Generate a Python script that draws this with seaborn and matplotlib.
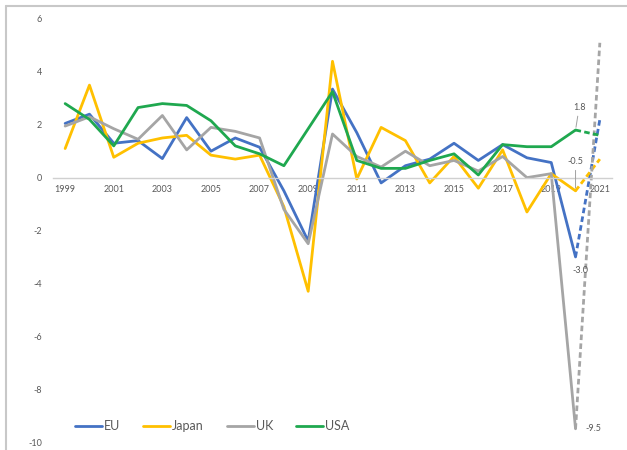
import matplotlib
matplotlib.use("Agg")
import matplotlib.pyplot as plt
from matplotlib.lines import Line2D
import numpy as np
import pandas as pd
import seaborn as sns

# GDP growth, % year on year (2021 is a forecast)
years = list(range(1999, 2022))
eu = [2.05, 2.4, 1.3, 1.4, 0.72, 2.27, 1.0, 1.5, 1.15, -0.5, -2.4, 3.35,
      1.7, -0.2, 0.45, 0.7, 1.3, 0.65, 1.25, 0.75, 0.57, -3.0, 2.2]
japan = [1.1, 3.5, 0.77, 1.3, 1.5, 1.6, 0.85, 0.7, 0.85, -1.1, -4.3, 4.4,
         -0.05, 1.9, 1.4, -0.2, 0.8, -0.4, 1.05, -1.3, 0.15, -0.5, 0.7]
uk = [1.95, 2.3, 1.85, 1.45, 2.35, 1.05, 1.9, 1.75, 1.5, -1.2, -2.5, 1.65,
      0.8, 0.4, 1.0, 0.45, 0.65, 0.25, 0.8, 0.0, 0.15, -9.5, 5.1]
usa = [2.8, 2.2, 1.2, 2.65, 2.8, 2.73, 2.15, 1.2, 0.9, 0.45, 1.85, 3.25,
       0.65, 0.35, 0.35, 0.65, 0.9, 0.1, 1.25, 1.17, 1.17, 1.8, 1.6]
regions = ["EU", "Japan", "UK", "USA"]
colors = ["#4472C4", "#FFC000", "#A5A5A5", "#1FA84F"]
forecast_year = 2021
labelled = {"USA": "1.8", "Japan": "-0.5", "EU": "-3.0", "UK": "-9.5"}

series = dict(zip(regions, [eu, japan, uk, usa]))
df = pd.DataFrame(
    [(y, r, v) for r in regions for y, v in zip(years, series[r])],
    columns=["year", "region", "growth"],
)
actual = df[df["year"] < forecast_year]
forecast = df[df["year"] >= forecast_year - 1]

sns.set_style("white")
plt.rcParams["font.family"] = ["Lato", "DejaVu Sans"]
text_col = "#595959"
palette = dict(zip(regions, colors))

fig = plt.figure(figsize=(6.27, 4.5), dpi=100)
ax = fig.add_axes([53 / 627, 1 - 442 / 450, 559 / 627, 423 / 450])

sns.lineplot(data=actual, x="year", y="growth", hue="region", palette=palette,
             hue_order=regions, linewidth=2.0, ax=ax, legend=False)
sns.lineplot(data=forecast, x="year", y="growth", hue="region", palette=palette,
             hue_order=regions, linewidth=2.0, ax=ax, legend=False,
             dashes=False)
n_actual = len(regions)
for ln in ax.get_lines()[n_actual:]:
    ln.set_linestyle((0, (2.0, 1.2)))

ax.set_xlim(1998.5, 2021.5)
ax.set_ylim(-10, 6)
ax.set_yticks(np.arange(-10, 7, 2))
ax.set_yticklabels([str(int(t)) for t in np.arange(-10, 7, 2)])
ax.set_xticks(years[::2])
ax.set_xticklabels([str(y) for y in years[::2]])
ax.set_xticks(np.arange(1998.5, 2022, 2), minor=True)
ax.tick_params(axis="x", which="major", length=0, pad=5, labelsize=6.5,
               colors=text_col)
ax.tick_params(axis="x", which="minor", length=4, width=0.8, color="#D0D0D0",
               direction="out")
ax.tick_params(axis="y", length=0, pad=8, labelsize=6.5, colors=text_col)
for side in ["left", "right", "top"]:
    ax.spines[side].set_visible(False)
ax.spines["bottom"].set_position(("data", 0))
ax.spines["bottom"].set_color("#D0D0D0")
ax.spines["bottom"].set_linewidth(1.0)
ax.set_xlabel("")
ax.set_ylabel("")
ax.grid(False)

# value labels for the 2020 points
yr = forecast_year - 1
idx = years.index(yr)
v_usa = series["USA"][idx]
ax.annotate(labelled["USA"], xy=(yr, v_usa), xytext=(yr + 0.15, 2.5),
            ha="center", va="bottom", fontsize=6.5, color=text_col,
            arrowprops=dict(arrowstyle="-", color="#A0A0A0", lw=0.7,
                            shrinkA=1, shrinkB=2))
v_jp = series["Japan"][idx]
ax.annotate(labelled["Japan"], xy=(yr, v_jp), xytext=(yr, 0.45),
            ha="center", va="bottom", fontsize=6.5, color=text_col,
            arrowprops=dict(arrowstyle="-", color="#A0A0A0", lw=0.7,
                            shrinkA=1, shrinkB=2))
v_eu = series["EU"][idx]
ax.text(yr + 0.2, v_eu - 0.35, labelled["EU"], ha="center", va="top",
        fontsize=6.5, color=text_col)
v_uk = series["UK"][idx]
ax.text(yr + 0.75, v_uk, labelled["UK"], ha="center", va="center",
        fontsize=6.5, color=text_col)

handles = [Line2D([], [], color=c, lw=2.0) for c in colors]
ax.legend(handles, regions, loc="center left", bbox_to_anchor=(0.03, 0.038),
          ncol=4, frameon=False, fontsize=9, handlelength=2.2,
          handletextpad=0.15, columnspacing=1.8, labelcolor=text_col,
          borderaxespad=0)

# outer chart border
fig.add_artist(Line2D([6 / 627, 6 / 627], [0, 1 - 6 / 450], color="#C8C8C8",
                      lw=1.5, transform=fig.transFigure))
fig.add_artist(Line2D([6 / 627, 1], [1 - 6 / 450, 1 - 6 / 450],
                      color="#C8C8C8", lw=1.5, transform=fig.transFigure))

fig.savefig("out.png", dpi=100)
